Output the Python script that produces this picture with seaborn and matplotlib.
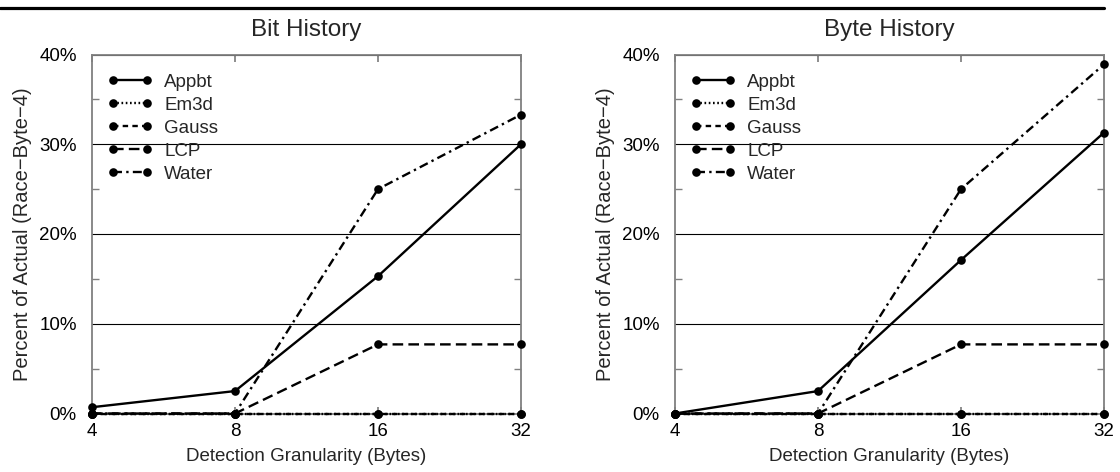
import numpy as np
import pandas as pd
import matplotlib
matplotlib.use("Agg")
import matplotlib.pyplot as plt
import seaborn as sns
from matplotlib.ticker import FixedLocator, FuncFormatter, MultipleLocator, NullLocator
from matplotlib.lines import Line2D

# ---------------- data ----------------
granularity = [4, 8, 16, 32]
series_names = ["Appbt", "Em3d", "Gauss", "LCP", "Water"]

bit_appbt = [0.7, 2.5, 15.3, 30.0]
bit_em3d = [0.0, 0.0, 0.0, 0.0]
bit_gauss = [0.0, 0.0, 0.0, 0.0]
bit_lcp = [0.0, 0.0, 7.7, 7.7]
bit_water = [0.0, 0.0, 25.0, 33.3]

byte_appbt = [0.0, 2.5, 17.1, 31.3]
byte_em3d = [0.0, 0.0, 0.0, 0.0]
byte_gauss = [0.0, 0.0, 0.0, 0.0]
byte_lcp = [0.0, 0.0, 7.7, 7.7]
byte_water = [0.0, 0.0, 25.0, 38.9]

panel_titles = ["Bit History", "Byte History"]
x_label = "Detection Granularity (Bytes)"
y_label = "Percent of Actual (Race\u2212Byte\u22124)"
y_ticks = [0, 10, 20, 30, 40]

panels = {
    "Bit History": [bit_appbt, bit_em3d, bit_gauss, bit_lcp, bit_water],
    "Byte History": [byte_appbt, byte_em3d, byte_gauss, byte_lcp, byte_water],
}

rows = []
for title, vals in panels.items():
    for name, ys in zip(series_names, vals):
        for g, v in zip(granularity, ys):
            rows.append({"panel": title, "series": name, "gran": g, "pct": v})
df = pd.DataFrame(rows)

# ---------------- style ----------------
sns.set_theme(style="white")
plt.rcParams["font.family"] = ["Liberation Sans", "DejaVu Sans"]
plt.rcParams["axes.unicode_minus"] = True

line_styles = {
    "Appbt": "-",
    "Em3d": (0, (0.7, 1.1)),
    "Gauss": (0, (2.3, 1.8)),
    "LCP": (0, (4.5, 2.2)),
    "Water": (0, (3.8, 1.8, 1.0, 1.8)),
}

spine_col = "#808080"

fig = plt.figure(figsize=(11.2, 4.72), dpi=100)
W, H = 1120.0, 472.0
ax_left = [92 / W, 675 / W]
ax_bottom = (H - 413.5) / H
ax_w = 429 / W
ax_h = 359 / H

for i, title in enumerate(panel_titles):
    ax = fig.add_axes([ax_left[i], ax_bottom, ax_w, ax_h])
    sub = df[df["panel"] == title]
    for name in series_names:
        s = sub[sub["series"] == name]
        sns.lineplot(data=s, x="gran", y="pct", ax=ax, color="black",
                     linewidth=1.7, linestyle=line_styles[name],
                     marker="o", markersize=6.2, markeredgewidth=0,
                     label=name, clip_on=False, zorder=4,
                     errorbar=None, estimator=None)

    ax.set_xscale("log", base=2)
    ax.set_xlim(4, 32)
    ax.set_ylim(0, 40)
    ax.xaxis.set_major_locator(FixedLocator(granularity))
    ax.xaxis.set_major_formatter(FuncFormatter(lambda v, p: f"{int(round(v))}"))
    ax.xaxis.set_minor_locator(NullLocator())
    ax.yaxis.set_major_locator(FixedLocator(y_ticks))
    ax.yaxis.set_major_formatter(FuncFormatter(lambda v, p: f"{v:.0f}%"))
    ax.yaxis.set_minor_locator(MultipleLocator(5))

    ax.grid(axis="y", which="major", color="black", linewidth=0.8, zorder=1)
    ax.grid(axis="x", visible=False)
    for sp in ax.spines.values():
        sp.set_color(spine_col)
        sp.set_linewidth(1.3)
        sp.set_visible(True)

    ax.tick_params(axis="both", which="both", direction="in", colors=spine_col,
                   labelcolor="black", top=True, right=True, bottom=True, left=True)
    ax.tick_params(axis="x", which="major", length=5, labelsize=13.5, pad=7)
    ax.tick_params(axis="y", which="major", length=0, labelsize=13.5, pad=11)
    ax.tick_params(axis="y", which="minor", length=5, width=1)

    ax.set_title(title, fontsize=17.5, pad=13)
    ax.set_xlabel(x_label, fontsize=13.5, va="top")
    ax.set_ylabel(y_label, fontsize=14.5, va="center")
    ax.xaxis.set_label_coords(0.5, -0.097)
    ax.yaxis.set_label_coords(-0.163, 0.5)

    handles, labels = ax.get_legend_handles_labels()
    ax.legend(handles, labels, loc="upper left", bbox_to_anchor=(0.035, 0.946),
              borderaxespad=0, borderpad=0, frameon=False, numpoints=2,
              handlelength=2.45, handletextpad=0.6, labelspacing=0.31,
              fontsize=13.5)

fig.add_artist(Line2D([0, 1104 / W], [1 - 7.5 / H, 1 - 7.5 / H],
                      color="black", linewidth=2.3, transform=fig.transFigure))

fig.savefig("out.png", dpi=100)
